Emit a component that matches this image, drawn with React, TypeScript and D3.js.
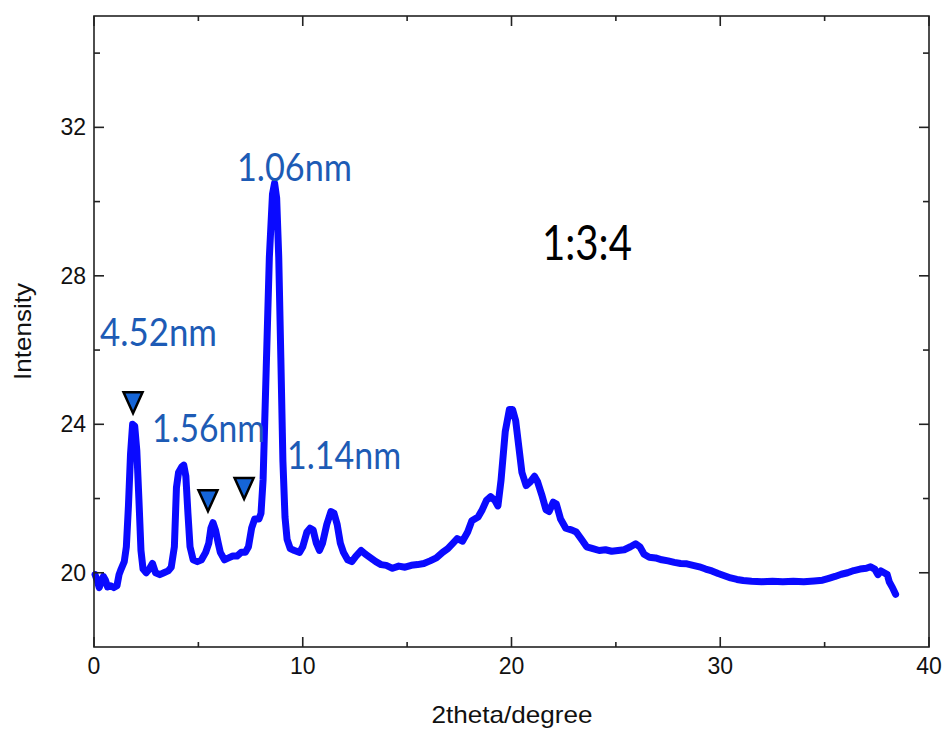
import React from 'react';
import * as d3 from 'd3';

// 2theta (degree) and intensity
const twoTheta = [
  0.05, 0.15, 0.25, 0.35, 0.45, 0.55, 0.65, 0.8, 0.95, 1.1, 1.2, 1.3, 1.45, 1.55, 1.65, 1.75, 1.85, 1.95,
  2.05, 2.15, 2.25, 2.35, 2.5, 2.65, 2.8, 2.95, 3.15, 3.35, 3.55, 3.7, 3.85, 3.95, 4.05, 4.2, 4.3, 4.4,
  4.5, 4.6, 4.75, 4.95, 5.15, 5.35, 5.5, 5.6, 5.7, 5.82, 5.95, 6.05, 6.25, 6.45, 6.65, 6.85, 7.05, 7.25,
  7.4, 7.55, 7.7, 7.9, 8.0, 8.1, 8.25, 8.4, 8.55, 8.65, 8.75, 8.85, 8.95, 9.05, 9.15, 9.25, 9.4, 9.6,
  9.85, 10.0, 10.2, 10.35, 10.5, 10.65, 10.8, 10.95, 11.15, 11.35, 11.5, 11.65, 11.8, 11.95, 12.15, 12.35,
  12.55, 12.8, 13.0, 13.25, 13.5, 13.75, 14.0, 14.3, 14.6, 14.9, 15.2, 15.5, 15.8, 16.1, 16.4, 16.7,
  16.95, 17.2, 17.4, 17.65, 17.9, 18.1, 18.4, 18.6, 18.8, 19.0, 19.2, 19.35, 19.5, 19.7, 19.9, 20.05,
  20.2, 20.35, 20.5, 20.7, 20.9, 21.1, 21.25, 21.45, 21.65, 21.8, 22.0, 22.15, 22.35, 22.6, 22.9, 23.1,
  23.35, 23.6, 23.9, 24.2, 24.5, 24.8, 25.1, 25.4, 25.7, 25.95, 26.15, 26.35, 26.6, 26.9, 27.2, 27.5,
  27.8, 28.1, 28.4, 28.7, 29.0, 29.3, 29.6, 29.9, 30.2, 30.5, 30.8, 31.1, 31.5, 32.0, 32.5, 33.0,
  33.5, 34.0, 34.5, 34.9, 35.2, 35.5, 35.8, 36.1, 36.4, 36.7, 37.0, 37.2, 37.4, 37.55, 37.7, 37.85,
  38.0, 38.1, 38.25, 38.4,
];

const intensity = [
  19.95, 19.8, 19.6, 19.75, 19.9, 19.8, 19.62, 19.65, 19.6, 19.65, 19.95, 20.1, 20.3, 20.7, 21.8, 23.2, 24.0, 23.95,
  23.3, 22.0, 20.6, 20.1, 20.0, 20.1, 20.25, 20.0, 19.95, 20.0, 20.05, 20.15, 20.7, 22.3, 22.7, 22.85, 22.9, 22.6,
  21.6, 20.7, 20.35, 20.3, 20.35, 20.55, 20.8, 21.2, 21.35, 21.15, 20.8, 20.55, 20.35, 20.4, 20.45, 20.45, 20.55, 20.55,
  20.7, 21.2, 21.45, 21.45, 21.6, 22.5, 25.5, 28.5, 30.2, 30.5, 30.1, 28.5, 25.8, 23.0, 21.5, 20.9, 20.65, 20.6,
  20.55, 20.7, 21.1, 21.2, 21.15, 20.8, 20.6, 20.8, 21.3, 21.65, 21.6, 21.3, 20.8, 20.55, 20.35, 20.3,
  20.45, 20.6, 20.5, 20.4, 20.3, 20.22, 20.2, 20.12, 20.18, 20.15, 20.2, 20.22, 20.25, 20.32, 20.4, 20.55,
  20.65, 20.8, 20.92, 20.85, 21.1, 21.4, 21.5, 21.7, 21.95, 22.05, 21.95, 21.8, 22.5, 23.8, 24.4, 24.4,
  24.1, 23.4, 22.7, 22.35, 22.45, 22.6, 22.45, 22.1, 21.7, 21.65, 21.9, 21.85, 21.45, 21.2, 21.15, 21.1,
  20.9, 20.7, 20.65, 20.6, 20.62, 20.58, 20.6, 20.62, 20.7, 20.78, 20.7, 20.5, 20.42, 20.4, 20.35, 20.32,
  20.28, 20.25, 20.24, 20.2, 20.16, 20.1, 20.05, 19.98, 19.92, 19.86, 19.82, 19.79, 19.77, 19.76, 19.77, 19.76,
  19.77, 19.76, 19.78, 19.8, 19.85, 19.9, 19.96, 20.0, 20.06, 20.1, 20.12, 20.16, 20.1, 19.95, 20.05, 20.0,
  19.95, 19.75, 19.6, 19.42,
];

const xTicks = [0, 10, 20, 30, 40];
const yTicks = [20, 24, 28, 32];

// peak labels: text, x, baseline value
const peakLabels = ['4.52nm', '1.56nm', '1.06nm', '1.14nm'];
const peakLabelX = [0.29, 2.78, 6.85, 9.25];
const peakLabelY = [26.12, 23.52, 30.55, 22.79];
const peakLabelW = [117, 113, 115, 114];

// marker triangles (tip position)
const markerX = [1.87, 5.46, 7.19];
const markerY = [24.3, 21.66, 21.99];

const ratioLabel = '1:3:4';

const width = 946;
const height = 731;
const margin = { top: 16, right: 17, bottom: 84, left: 94 };

const App = () => {
  const x = d3.scaleLinear().domain([0, 40]).range([margin.left, width - margin.right]);
  const y = d3.scaleLinear().domain([18, 35]).range([height - margin.bottom, margin.top]);

  const pts: [number, number][] = twoTheta.map((t, i) => [t, intensity[i]]);
  const line = d3.line<[number, number]>()
    .x(d => x(d[0]))
    .y(d => y(d[1]));

  const x0 = x.range()[0], x1 = x.range()[1];
  const y0 = y.range()[0], y1 = y.range()[1];
  const xMinor = d3.range(5, 40, 10);
  const yMinor = d3.range(18, 35, 4).filter(v => v > 18);

  const tickFont = { fontFamily: '"Liberation Sans", Arial, sans-serif', fontSize: 23, fill: '#111' };
  const axis = '#222';

  return (
    <svg width={width} height={height} style={{ position: 'absolute', left: 0, top: 0, background: '#fff' }}>
      <path d={line(pts) ?? ''} fill="none" stroke="#0a0aff" strokeWidth={7} strokeLinejoin="round" strokeLinecap="round" />

      {/* frame */}
      <rect x={x0} y={y1} width={x1 - x0} height={y0 - y1} fill="none" stroke={axis} strokeWidth={1.6} />

      {/* x ticks, bottom and top */}
      {xTicks.map(t => (
        <g key={'xt' + t}>
          <line x1={x(t)} x2={x(t)} y1={y0} y2={y0 - 10} stroke={axis} strokeWidth={1.6} />
          <line x1={x(t)} x2={x(t)} y1={y1} y2={y1 + 10} stroke={axis} strokeWidth={1.6} />
          <text x={x(t)} y={y0 + 27} textAnchor="middle" {...tickFont}>{t}</text>
        </g>
      ))}
      {xMinor.map(t => (
        <g key={'xm' + t}>
          <line x1={x(t)} x2={x(t)} y1={y0} y2={y0 - 5} stroke={axis} strokeWidth={1.6} />
          <line x1={x(t)} x2={x(t)} y1={y1} y2={y1 + 5} stroke={axis} strokeWidth={1.6} />
        </g>
      ))}

      {/* y ticks, left and right */}
      {yTicks.map(t => (
        <g key={'yt' + t}>
          <line x1={x0} x2={x0 + 10} y1={y(t)} y2={y(t)} stroke={axis} strokeWidth={1.6} />
          <line x1={x1} x2={x1 - 10} y1={y(t)} y2={y(t)} stroke={axis} strokeWidth={1.6} />
          <text x={x0 - 8} y={y(t) + 8} textAnchor="end" {...tickFont}>{t}</text>
        </g>
      ))}
      {yMinor.map(t => (
        <g key={'ym' + t}>
          <line x1={x0} x2={x0 + 6} y1={y(t)} y2={y(t)} stroke={axis} strokeWidth={1.6} />
          <line x1={x1} x2={x1 - 6} y1={y(t)} y2={y(t)} stroke={axis} strokeWidth={1.6} />
        </g>
      ))}

      <text x={512} y={723} textAnchor="middle" {...tickFont} fontSize={24}
        textLength={161} lengthAdjust="spacingAndGlyphs">2theta/degree</text>
      <text transform={`translate(31, ${(y0 + y1) / 2}) rotate(-90)`} textAnchor="middle" {...tickFont} fontSize={24}
        textLength={97} lengthAdjust="spacingAndGlyphs">Intensity</text>

      {/* markers */}
      {markerX.map((m, i) => {
        const cx = x(m), ty = y(markerY[i]);
        return (
          <path key={'mk' + i}
            d={`M${cx - 9.5},${ty - 21} L${cx + 9.5},${ty - 21} L${cx},${ty} Z`}
            fill="#1565d8" stroke="#000" strokeWidth={2.5} strokeLinejoin="miter" />
        );
      })}

      {/* peak labels */}
      {peakLabels.map((s, i) => (
        <text key={s} x={x(peakLabelX[i])} y={y(peakLabelY[i])}
          fontFamily="Lato, 'Open Sans', sans-serif" fontSize={38} fill="#1d5bb5"
          textLength={peakLabelW[i]} lengthAdjust="spacingAndGlyphs">{s}</text>
      ))}

      <text x={x(21.46)} y={y(28.43)} fontFamily="Lato, 'Open Sans', sans-serif" fontSize={48} fill="#000"
        textLength={90} lengthAdjust="spacingAndGlyphs">{ratioLabel}</text>
    </svg>
  );
};

export default App;
